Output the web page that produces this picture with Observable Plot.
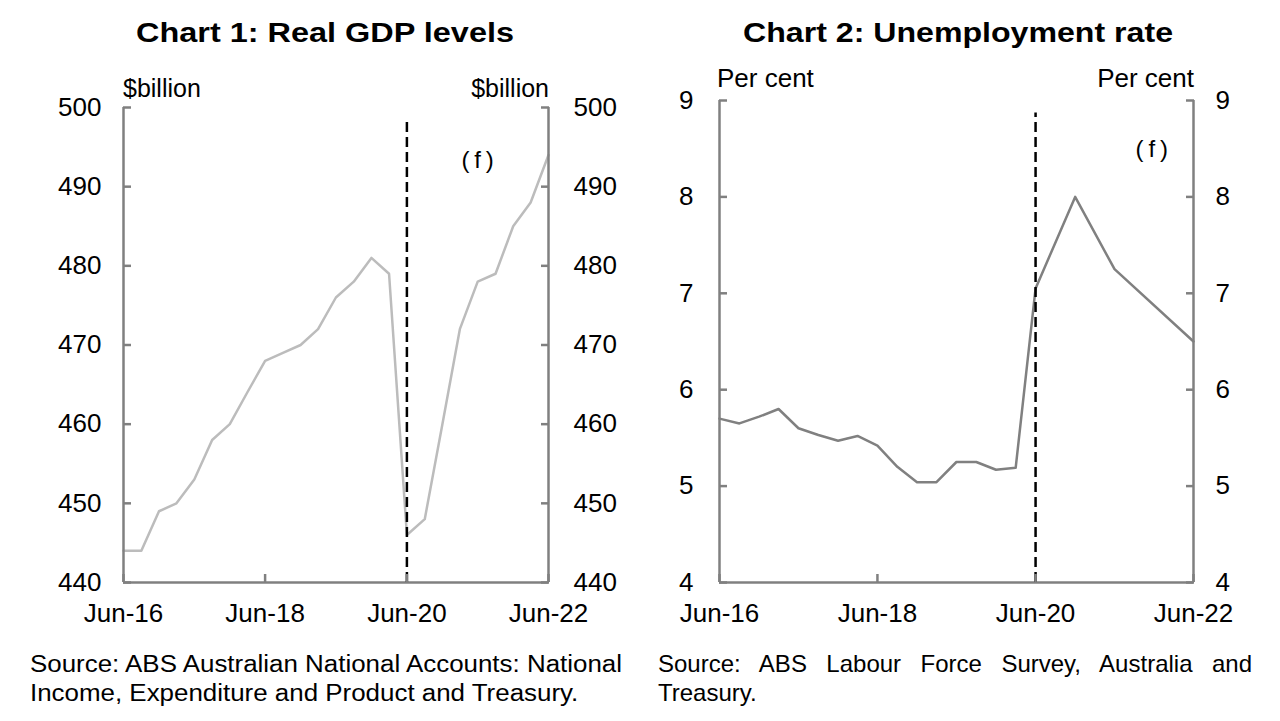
<!DOCTYPE html>
<html>
<head>
<meta charset="utf-8">
<script src="https://cdn.jsdelivr.net/npm/d3@7"></script>
<script src="https://cdn.jsdelivr.net/npm/@observablehq/plot@0.6"></script>
<style>
  html, body { margin: 0; padding: 0; background: #fff; }
  #wrap { position: relative; width: 1280px; height: 721px; overflow: hidden; background: #fff;
          font-family: Arial, "Liberation Sans", sans-serif; }
  .plot { position: absolute; top: 50px; }
  #overlay { position: absolute; left: 0; top: 0; pointer-events: none; }
</style>
</head>
<body>
<div id="wrap">
  <div id="left" class="plot" style="left:0px"></div>
  <div id="right" class="plot" style="left:640px"></div>
</div>
<script>
// ---------- data ----------
const gdpDates = [
  "2016-06-01","2016-09-01","2016-12-01","2017-03-01","2017-06-01","2017-09-01","2017-12-01",
  "2018-03-01","2018-06-01","2018-09-01","2018-12-01","2019-03-01","2019-06-01","2019-09-01",
  "2019-12-01","2020-03-01","2020-06-01","2020-09-01","2020-12-01","2021-03-01","2021-06-01",
  "2021-09-01","2021-12-01","2022-03-01","2022-06-01"
];
const gdpValues = [444,444,449,450,453,458,460,464,468,469,470,472,476,478,481,479,446,448,460,472,478,479,485,488,494];

const urDates = [
  "2016-06-01","2016-09-01","2016-12-01","2017-03-01","2017-06-01","2017-09-01","2017-12-01",
  "2018-03-01","2018-06-01","2018-09-01","2018-12-01","2019-03-01","2019-06-01","2019-09-01",
  "2019-12-01","2020-03-01","2020-06-01","2020-12-01","2021-06-01","2022-06-01"
];
const urValues = [5.70,5.65,5.72,5.80,5.60,5.53,5.47,5.52,5.42,5.20,5.04,5.04,5.25,5.25,5.17,5.19,7.05,8.0,7.25,6.5];

const xTickDates = ["2016-06-01","2018-06-01","2020-06-01","2022-06-01"];
const gdpTicks = [440,450,460,470,480,490,500];
const urTicks = [4,5,6,7,8,9];
const forecastStart = "2020-06-01";
const gdpDashTop = 498.3;
const urDashTop = 8.87;
const gdpNote = [{date: "2021-06-01", value: 493.3, text: "(\u2009f\u2009)"}];
const urNote = [{date: "2021-11-20", value: 8.49, text: "(\u2009f\u2009)"}];

const titles = ["Chart 1: Real GDP levels", "Chart 2: Unemployment rate"];
const unitLabels = ["$billion", "Per cent"];
const sourceLeft = ["Source: ABS Australian National Accounts: National", "Income, Expenditure and Product and Treasury."];
const sourceRight = ["Source: ABS Labour Force Survey, Australia and", "Treasury."];

// ---------- build ----------
const P = d3.isoParse;
const fmt = d3.utcFormat("%b-%y");
const gdpData = gdpDates.map((d, i) => ({date: P(d), value: gdpValues[i]}));
const urData = urDates.map((d, i) => ({date: P(d), value: urValues[i]}));
const xTicks = xTickDates.map(P);
const xDomain = [xTicks[0], xTicks[xTicks.length - 1]];

function chart({data, yDomain, yTicks, lineColor, dashTop, note, mL, mR, mT, padL, padR}) {
  const grey = "#808080";
  const yf = d3.format("d");
  return Plot.plot({
    width: 640, height: 590,
    marginLeft: mL, marginRight: mR, marginTop: mT, marginBottom: 58,
    x: {type: "utc", domain: xDomain},
    y: {domain: yDomain},
    style: {fontFamily: "Arial, 'Liberation Sans', sans-serif", fontSize: "26px", background: "transparent", overflow: "visible", color: "#000"},
    marks: [
      Plot.lineY(data, {x: "date", y: "value", stroke: lineColor, strokeWidth: 2.5}),
      // open frame: left, right and bottom edges only
      Plot.ruleX(xDomain, {x: d => d, stroke: grey, strokeWidth: 2.5}),
      Plot.ruleY([yDomain[0]], {y: d => d, stroke: grey, strokeWidth: 2.5}),
      Plot.ruleX([P(forecastStart)], {x: d => d, y1: yDomain[0], y2: dashTop, stroke: "#000", strokeWidth: 2.5, strokeDasharray: "10,5"}),
      Plot.axisY(yTicks, {anchor: "left", tickSize: -8, tickPadding: padL, tickFormat: yf, stroke: grey, strokeWidth: 2.5, fill: "#000", label: null}),
      Plot.axisY(yTicks, {anchor: "right", tickSize: -8, tickPadding: padR, tickFormat: yf, stroke: grey, strokeWidth: 2.5, fill: "#000", label: null}),
      Plot.axisX(xTicks, {anchor: "bottom", tickSize: -8, tickPadding: 29, tickFormat: fmt, stroke: grey, strokeWidth: 2.5, fill: "#000", label: null}),
      Plot.text(note.map(n => ({...n, date: P(n.date)})), {x: "date", y: "value", text: "text", fontSize: 24, fill: "#000"})
    ]
  });
}

document.getElementById("left").appendChild(chart({
  data: gdpData, yDomain: [440, 500], yTicks: gdpTicks, lineColor: "#bcbcbc",
  dashTop: gdpDashTop, note: gdpNote, mL: 123, mR: 92, mT: 57, padL: 30, padR: 33
}));
document.getElementById("right").appendChild(chart({
  data: urData, yDomain: [4, 9], yTicks: urTicks, lineColor: "#808080",
  dashTop: urDashTop, note: urNote, mL: 79, mR: 87, mT: 50, padL: 34, padR: 30
}));

// ---------- overlay texts ----------
const NS = "http://www.w3.org/2000/svg";
const ov = document.createElementNS(NS, "svg");
ov.setAttribute("id", "overlay");
ov.setAttribute("width", 1280);
ov.setAttribute("height", 721);
document.getElementById("wrap").appendChild(ov);
function txt(s, x, y, size, opts = {}) {
  const t = document.createElementNS(NS, "text");
  t.textContent = s;
  t.setAttribute("x", x);
  t.setAttribute("y", y);
  t.setAttribute("font-size", size);
  t.setAttribute("font-family", "Arial, 'Liberation Sans', sans-serif");
  t.setAttribute("fill", "#000");
  if (opts.weight) t.setAttribute("font-weight", opts.weight);
  if (opts.anchor) t.setAttribute("text-anchor", opts.anchor);
  ov.appendChild(t);
  if (opts.len) { t.setAttribute("textLength", opts.len); t.setAttribute("lengthAdjust", "spacingAndGlyphs"); }
  return t;
}
txt(titles[0], 136, 42, 27, {weight: "bold", len: 378});
txt(titles[1], 743, 42, 27, {weight: "bold", len: 430});
txt(unitLabels[0], 123, 97, 25);
txt(unitLabels[0], 549, 97, 25, {anchor: "end"});
txt(unitLabels[1], 717, 87, 26);
txt(unitLabels[1], 1194, 87, 26, {anchor: "end"});

// left source: condensed to fit
const l1 = txt(sourceLeft[0], 30, 672, 23);
const l2 = txt(sourceLeft[1], 30, 701, 23);
const k = 592 / l1.getComputedTextLength();
const w2 = l2.getComputedTextLength() * k;
l1.setAttribute("textLength", 592); l1.setAttribute("lengthAdjust", "spacingAndGlyphs");
l2.setAttribute("textLength", w2); l2.setAttribute("lengthAdjust", "spacingAndGlyphs");

// right source: justified first line
const r1 = txt(sourceRight[0], 658, 672, 24);
const nat = r1.getComputedTextLength();
const spaces = (sourceRight[0].match(/ /g) || []).length;
r1.setAttribute("word-spacing", Math.max(0, (594 - nat) / spaces));
txt(sourceRight[1], 658, 701, 24);
</script>
</body>
</html>
